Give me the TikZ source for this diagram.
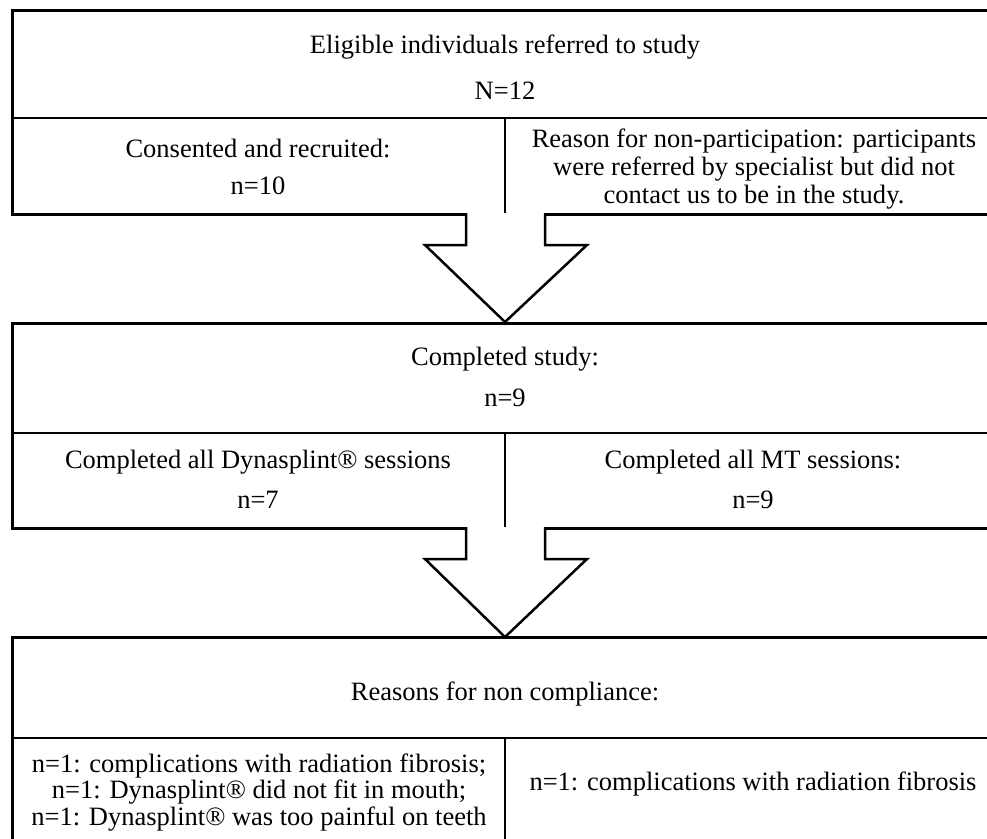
\documentclass[tikz,border=0pt]{standalone}
\usepackage{fontspec}
\setmainfont{Liberation Serif}
\begin{document}
\begin{tikzpicture}[x=1pt,y=-1pt,
  frame/.style={draw=black,line width=2.5pt,rectangle,inner sep=0pt,anchor=north west},
  rule/.style={draw=black,line width=2.5pt},
  blockarrow/.style={draw=black,line width=2.5pt,fill=white,line join=miter},
  txt/.style={anchor=base,inner sep=0pt,align=center,font=\fontsize{26.5}{28}\selectfont},
  tighttxt/.style={anchor=base,inner sep=0pt,align=center,font=\fontsize{26.5}{26.5}\selectfont}]
\useasboundingbox (0,0) rectangle (987,838);
\clip (0,0) rectangle (987,838);

% Box 1
\node[frame,minimum width=985pt,minimum height=204pt] (b1) at (11,9) {};
\coordinate (b1l) at (11,118);
\coordinate (b1r) at (996,118);
\coordinate (b1m) at (505,118);
\coordinate (b1mb) at (505,213);
\draw[rule] (b1l) -- (b1r);
\draw[rule] (b1m) -- (b1mb);
\node[txt] (t1a) at (505,53) {Eligible individuals referred to study};
\node[txt] (t1b) at (505,99) {N=12};
\node[txt] (t1c) at (258,157) {Consented and recruited:};
\node[txt] (t1d) at (258,194) {n=10};
\node[txt] (t1e) at (754,203) {Reason for non-participation: participants\\were referred by specialist but did not\\contact us to be in the study.};

% Box 2
\node[frame,minimum width=985pt,minimum height=205pt] (b2) at (11,322) {};
\coordinate (b2l) at (11,433);
\coordinate (b2r) at (996,433);
\coordinate (b2m) at (505,433);
\coordinate (b2mb) at (505,527);
\draw[rule] (b2l) -- (b2r);
\draw[rule] (b2m) -- (b2mb);
\node[txt] (t2a) at (505,365) {Completed study:};
\node[txt] (t2b) at (505,406) {n=9};
\node[txt] (t2c) at (258,468) {Completed all Dynasplint® sessions};
\node[txt] (t2d) at (258,508) {n=7};
\node[txt] (t2e) at (753,468) {Completed all MT sessions:};
\node[txt] (t2f) at (753,508) {n=9};

% Box 3
\node[frame,minimum width=985pt,minimum height=230pt] (b3) at (11,636) {};
\coordinate (b3l) at (11,738);
\coordinate (b3r) at (996,738);
\coordinate (b3m) at (505,738);
\coordinate (b3mb) at (505,870);
\draw[rule] (b3l) -- (b3r);
\draw[rule] (b3m) -- (b3mb);
\node[txt] (t3a) at (505,700) {Reasons for non compliance:};
\node[tighttxt] (t3b) at (259,825) {n=1: complications with radiation fibrosis;\\n=1: Dynasplint® did not fit in mouth;\\n=1: Dynasplint® was too painful on teeth};
\node[txt] (t3c) at (753,790) {n=1: complications with radiation fibrosis};

% Block arrows
\draw[blockarrow] (466,213) -- (466,245) -- (425,245) -- (505,322) -- (587,245) -- (545,245) -- (545,213);
\draw[blockarrow] (466,527) -- (466,559) -- (425,559) -- (505,637) -- (587,559) -- (545,559) -- (545,527);
\end{tikzpicture}
\end{document}
